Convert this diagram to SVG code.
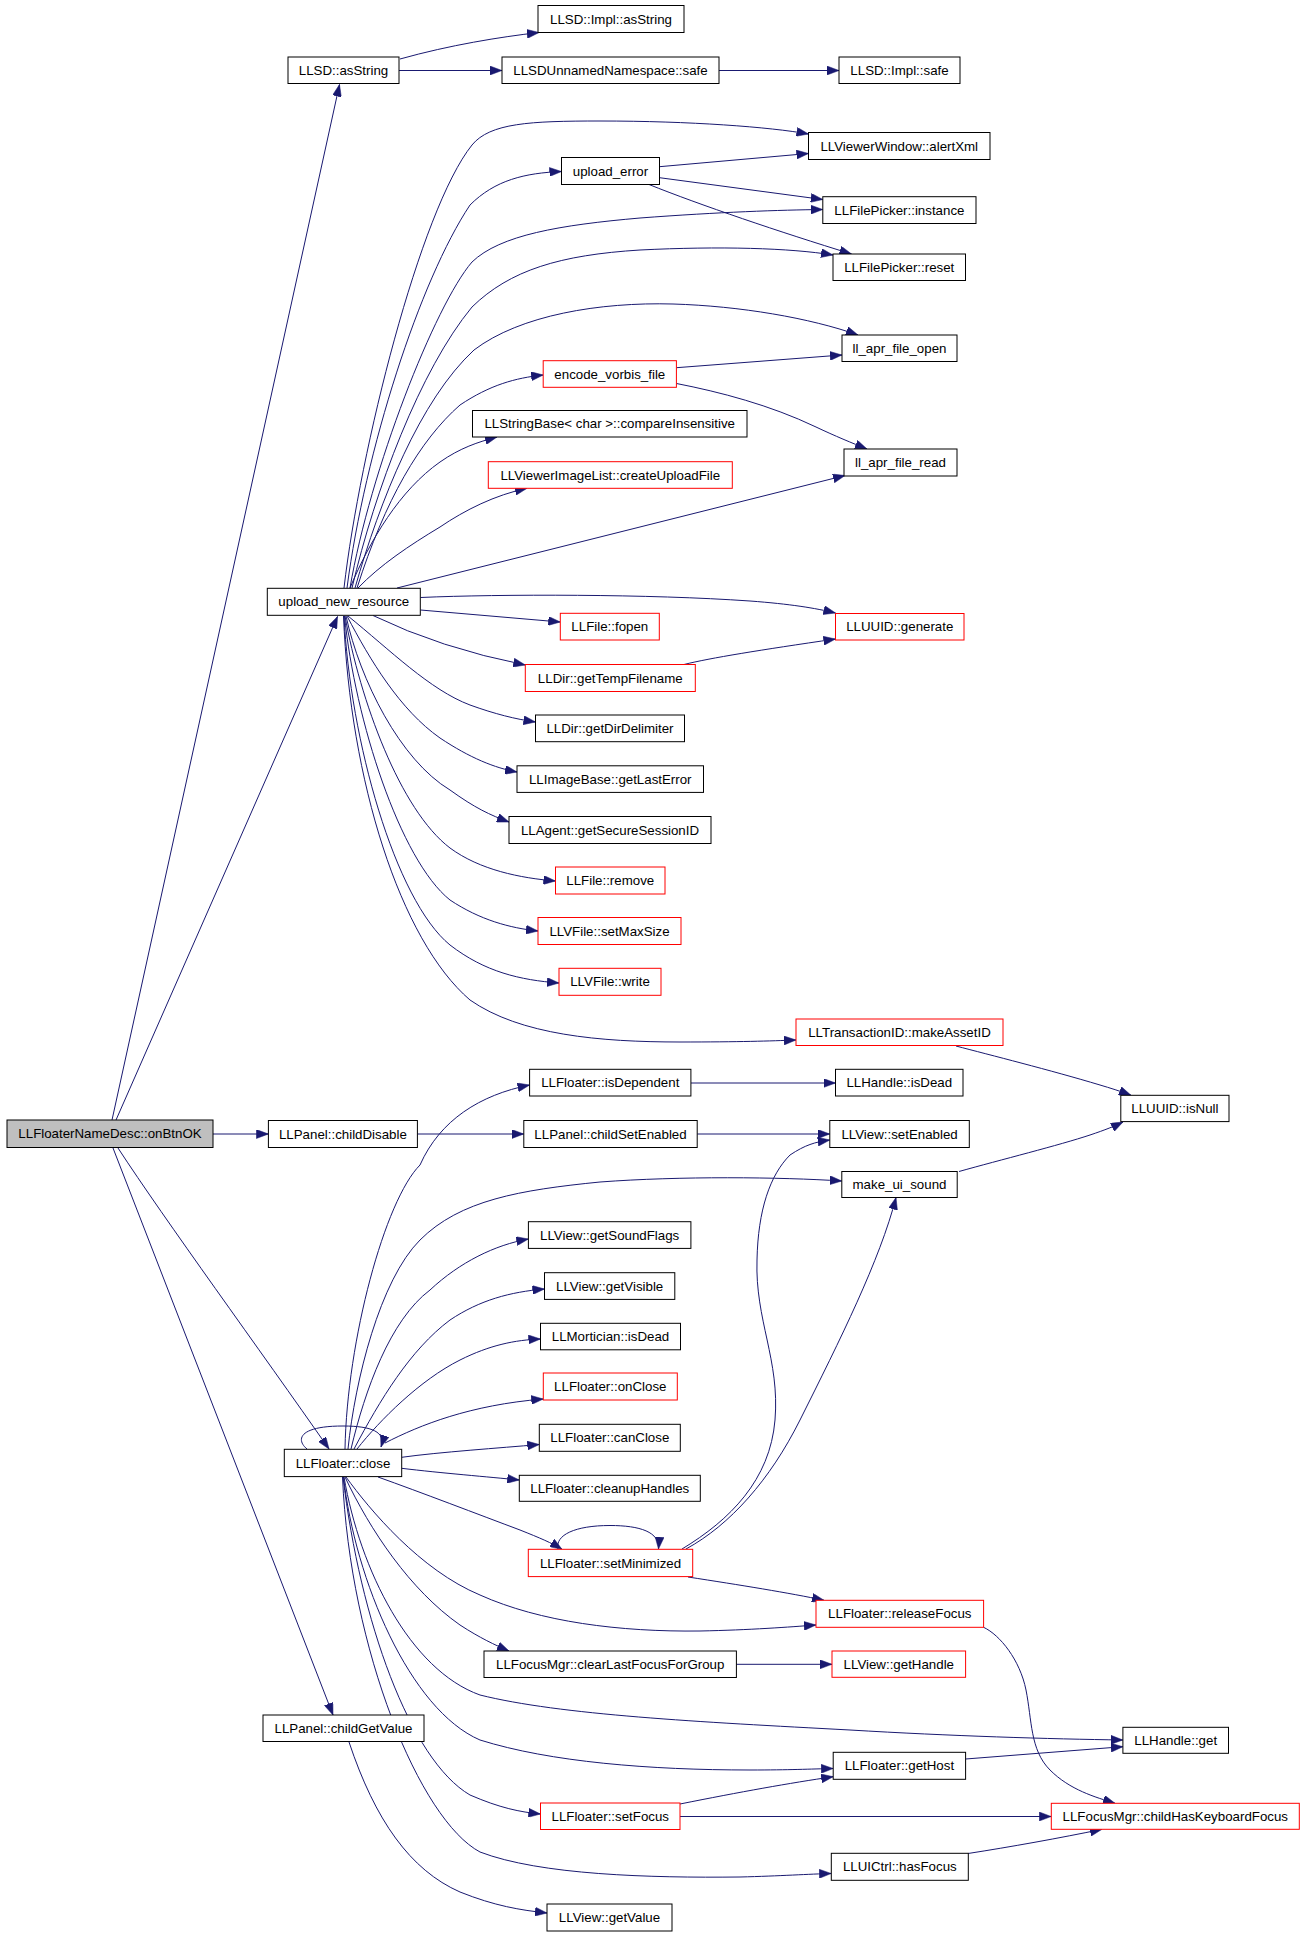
<svg xmlns="http://www.w3.org/2000/svg" width="1304" height="1936" viewBox="0 0 1304 1936">
<style>
.node rect{fill:#fff;stroke:#000;stroke-width:1}
.node.red rect{stroke:#f00}
.node.root rect{fill:#bfbfbf}
.node text{font-family:"Liberation Sans",Arial,sans-serif;font-size:13.3px;text-anchor:middle;fill:#000}
#edges path{fill:none;stroke:#191970;stroke-width:1;marker-end:url(#arr)}
</style>
<defs>
<marker id="arr" markerUnits="userSpaceOnUse" markerWidth="12" markerHeight="9" refX="12" refY="4.5" orient="auto" viewBox="0 0 12 9">
<path d="M0,0 L12,4.5 L0,9 z" fill="#191970" stroke="#191970" stroke-width="0.5"/>
</marker>
</defs>
<rect width="1304" height="1936" fill="#fff"/>
<g id="edges">
<path d="M112,1120 L339.5,84.5"/>
<path d="M116,1120 L337.5,616.5"/>
<path d="M213,1134 L268.4,1134"/>
<path d="M118,1148 C165,1220 260,1350 329,1449"/>
<path d="M113,1148 L333,1715"/>
<path d="M400,59 C450,45 500,37 539,32.5"/>
<path d="M399,70.5 L502,70.5"/>
<path d="M719,70.5 L839,70.5"/>
<path d="M344,588 C360,450 420,210 472,145 C490,123 530,121 600,121 C690,121 770,127 808.5,134"/>
<path d="M347,588 C365,450 420,280 470,205 C495,180 525,173 561.5,171.5"/>
<path d="M659.5,166.7 L808.5,153.5"/>
<path d="M659.5,177.7 L822.8,199.5"/>
<path d="M648.5,184.3 C700,205 780,232 851.5,254"/>
<path d="M350,588 C370,470 435,305 472,262 C500,235 560,225 640,218 C720,212 780,210 822.8,209.5"/>
<path d="M352,588 C375,490 420,370 472,307 C510,270 560,255 640,250 C720,246 790,248 833,255"/>
<path d="M355,588 C380,500 420,400 474,350 C520,315 600,302 673,304 C740,306 810,318 858,335"/>
<path d="M357,588 C385,500 420,440 460,405 C490,385 515,378 543.2,375"/>
<path d="M676.5,367.7 L842,355"/>
<path d="M676.5,383.5 C720,392 770,405 816,427 C835,436 852,443 867,449"/>
<path d="M350,588 C370,540 400,490 440,462 C460,448 478,442 497,437"/>
<path d="M358,588 C380,565 410,545 440,527 C465,510 495,495 527,488.3"/>
<path d="M397,588 L845,475.5"/>
<path d="M420.5,597.5 C500,594 650,594 750,601 C790,604 815,608 835.5,613"/>
<path d="M420.5,610 L560.3,622"/>
<path d="M373,615.5 Q440,648 525.3,665"/>
<path d="M684,664.5 C710,658 760,650 835.5,639"/>
<path d="M348,616 C390,650 430,690 470,705 C495,714 515,719 535.5,722"/>
<path d="M347,616 C370,660 400,710 440,738 C470,758 495,768 517,772"/>
<path d="M346,616 C360,680 400,760 450,790 C475,808 490,815 509,822"/>
<path d="M345,616 C360,700 400,810 450,848 C480,870 520,878 555.5,881"/>
<path d="M344.5,616 C355,720 400,860 450,900 C480,920 510,928 538,931"/>
<path d="M344,616 C350,740 395,900 450,945 C485,972 520,980 559,983"/>
<path d="M343.5,616 C350,780 400,940 470,1000 C520,1035 600,1042 680,1042 C740,1042 770,1041 796,1040"/>
<path d="M956,1046 C990,1055 1050,1070 1100,1085 C1110,1088 1120,1091 1131,1095.3"/>
<path d="M691,1083 L835.5,1083"/>
<path d="M417.4,1134 L523.8,1134"/>
<path d="M697.2,1134 L829.8,1134"/>
<path d="M959,1171.5 C1000,1160 1060,1145 1090,1135 C1105,1130 1115,1126 1123,1122"/>
<path d="M345,1449 C347,1340 385,1200 420,1165 C440,1120 480,1095 529.6,1085"/>
<path d="M348,1449 C355,1380 380,1280 420,1240 C460,1200 520,1190 600,1182 C680,1176 780,1177 841.8,1181"/>
<path d="M351,1449 C365,1390 390,1320 430,1290 C460,1262 495,1245 528.4,1239"/>
<path d="M354,1449 C380,1400 410,1350 450,1320 C480,1300 510,1292 544.5,1289"/>
<path d="M357,1449 C380,1420 420,1380 460,1360 C490,1345 515,1340 540.5,1339"/>
<path d="M385,1443 C420,1425 470,1405 543.3,1399"/>
<path d="M307,1449 C296,1440 298,1426 343,1426 C372,1426 386,1432 381,1447"/>
<path d="M401.7,1457.3 C440,1452 500,1448 539.3,1444.5"/>
<path d="M401.7,1468.3 C440,1473 490,1477 519.3,1480"/>
<path d="M378,1477 C420,1492 480,1515 520,1530 C540,1538 552,1543 562,1549.3"/>
<path d="M558,1549 C555,1535 575,1525.5 610,1525.5 C640,1525.5 660,1532 658.5,1549"/>
<path d="M682,1549 C730,1520 770,1480 775,1420 C780,1360 755,1320 757,1260 C758,1210 770,1175 790,1155 C805,1145 815,1142 829.8,1140"/>
<path d="M686,1549 C730,1525 770,1480 800,1420 C840,1340 880,1260 896,1197.5"/>
<path d="M688,1577 C740,1585 790,1593 824,1600.3"/>
<path d="M346,1477 C370,1510 420,1570 480,1595 C540,1622 620,1632 700,1631 C750,1630 790,1627 816,1625"/>
<path d="M345,1477 C370,1530 410,1590 460,1625 C480,1638 495,1645 509,1651"/>
<path d="M736.4,1664.3 L832,1664.3"/>
<path d="M344,1477 C360,1570 410,1670 480,1695 C560,1715 700,1722 850,1730 C950,1736 1050,1739 1122.9,1740"/>
<path d="M965.6,1759 L1122.9,1746.7"/>
<path d="M343.5,1477 C355,1580 410,1710 480,1740 C550,1762 650,1770 750,1770 C790,1770 810,1769 833.2,1768.5"/>
<path d="M343,1477 C360,1620 410,1760 470,1795 C500,1808 520,1812 540.5,1814"/>
<path d="M680,1804 C740,1792 790,1783 833.2,1776.7"/>
<path d="M680,1816.5 L1051.3,1816.5"/>
<path d="M983.6,1627.3 C1000,1635 1020,1660 1026,1690 C1032,1720 1030,1750 1050,1770 C1070,1790 1095,1797 1115,1803.3"/>
<path d="M342.5,1477 C350,1650 420,1820 480,1852 C540,1875 650,1878 740,1877 C780,1876 810,1874 831.3,1873.5"/>
<path d="M968,1853.5 C1010,1847 1060,1838 1102,1829.3"/>
<path d="M349,1742 C375,1820 410,1870 460,1892 C495,1906 520,1910 547,1913"/>
</g>
<g id="n_onBtnOK" class="node root"><rect x="7" y="1120" width="206" height="27.5"/><text x="110" y="1138.4">LLFloaterNameDesc::onBtnOK</text></g>
<g id="n_asString" class="node"><rect x="288" y="57" width="111" height="26.5"/><text x="343.5" y="74.9">LLSD::asString</text></g>
<g id="n_implAsString" class="node"><rect x="538" y="5.5" width="146" height="27"/><text x="611" y="23.6">LLSD::Impl::asString</text></g>
<g id="n_unnamedSafe" class="node"><rect x="502" y="57" width="217" height="26.5"/><text x="610.5" y="74.9">LLSDUnnamedNamespace::safe</text></g>
<g id="n_implSafe" class="node"><rect x="839" y="57" width="121" height="26.5"/><text x="899.5" y="74.9">LLSD::Impl::safe</text></g>
<g id="n_uploadNewResource" class="node"><rect x="267.3" y="588.3" width="153" height="27"/><text x="343.8" y="606.4">upload_new_resource</text></g>
<g id="n_alertXml" class="node"><rect x="808.5" y="132.5" width="181.5" height="27"/><text x="899.25" y="150.6">LLViewerWindow::alertXml</text></g>
<g id="n_uploadError" class="node"><rect x="561.5" y="157.5" width="98" height="27"/><text x="610.5" y="175.6">upload_error</text></g>
<g id="n_fpInstance" class="node"><rect x="822.8" y="196.7" width="153.2" height="26.8"/><text x="899.4" y="214.7">LLFilePicker::instance</text></g>
<g id="n_fpReset" class="node"><rect x="833" y="254" width="132.5" height="26.5"/><text x="899.25" y="271.85">LLFilePicker::reset</text></g>
<g id="n_aprOpen" class="node"><rect x="842" y="335" width="115" height="26.5"/><text x="899.5" y="352.85">ll_apr_file_open</text></g>
<g id="n_encodeVorbis" class="node red"><rect x="543.2" y="360.7" width="133.2" height="26.6"/><text x="609.8" y="378.6">encode_vorbis_file</text></g>
<g id="n_compareInsensitive" class="node"><rect x="472.5" y="410.5" width="274.5" height="26.5"/><text x="609.75" y="428.35">LLStringBase&lt; char &gt;::compareInsensitive</text></g>
<g id="n_createUploadFile" class="node red"><rect x="488.3" y="461.7" width="244" height="26.6"/><text x="610.3" y="479.6">LLViewerImageList::createUploadFile</text></g>
<g id="n_aprRead" class="node"><rect x="844" y="449" width="113" height="27"/><text x="900.5" y="467.1">ll_apr_file_read</text></g>
<g id="n_fopen" class="node red"><rect x="560.3" y="613.3" width="99" height="26.7"/><text x="609.8" y="631.25">LLFile::fopen</text></g>
<g id="n_generate" class="node red"><rect x="835.5" y="613.5" width="128.5" height="26.5"/><text x="899.75" y="631.35">LLUUID::generate</text></g>
<g id="n_getTempFilename" class="node red"><rect x="525.3" y="664.5" width="170" height="27"/><text x="610.3" y="682.6">LLDir::getTempFilename</text></g>
<g id="n_getDirDelimiter" class="node"><rect x="535.5" y="715" width="149" height="26.7"/><text x="610" y="733">LLDir::getDirDelimiter</text></g>
<g id="n_getLastError" class="node"><rect x="517" y="765.8" width="186.5" height="26.6"/><text x="610.25" y="783.7">LLImageBase::getLastError</text></g>
<g id="n_secureSession" class="node"><rect x="509" y="816.5" width="202" height="27"/><text x="610" y="834.6">LLAgent::getSecureSessionID</text></g>
<g id="n_fileRemove" class="node red"><rect x="555.5" y="867" width="109.5" height="27"/><text x="610.25" y="885.1">LLFile::remove</text></g>
<g id="n_setMaxSize" class="node red"><rect x="538" y="917.5" width="143" height="27"/><text x="609.5" y="935.6">LLVFile::setMaxSize</text></g>
<g id="n_vfileWrite" class="node red"><rect x="559" y="968.3" width="102" height="27"/><text x="610" y="986.4">LLVFile::write</text></g>
<g id="n_makeAssetID" class="node red"><rect x="796" y="1019" width="207" height="26.5"/><text x="899.5" y="1036.85">LLTransactionID::makeAssetID</text></g>
<g id="n_isDependent" class="node"><rect x="529.6" y="1069.3" width="161.3" height="26.7"/><text x="610.25" y="1087.25">LLFloater::isDependent</text></g>
<g id="n_handleIsDead" class="node"><rect x="835.5" y="1069.3" width="127.5" height="26.7"/><text x="899.25" y="1087.25">LLHandle::isDead</text></g>
<g id="n_isNull" class="node"><rect x="1120.8" y="1095.3" width="108.2" height="26.3"/><text x="1174.9" y="1113.05">LLUUID::isNull</text></g>
<g id="n_childDisable" class="node"><rect x="268.4" y="1120.5" width="149" height="27"/><text x="342.9" y="1138.6">LLPanel::childDisable</text></g>
<g id="n_childSetEnabled" class="node"><rect x="523.8" y="1120.5" width="173.4" height="27"/><text x="610.5" y="1138.6">LLPanel::childSetEnabled</text></g>
<g id="n_setEnabled" class="node"><rect x="829.8" y="1120.5" width="139.5" height="27"/><text x="899.55" y="1138.6">LLView::setEnabled</text></g>
<g id="n_makeUiSound" class="node"><rect x="841.8" y="1171.5" width="115.4" height="26"/><text x="899.5" y="1189.1">make_ui_sound</text></g>
<g id="n_getSoundFlags" class="node"><rect x="528.4" y="1221.7" width="162.5" height="26.7"/><text x="609.65" y="1239.65">LLView::getSoundFlags</text></g>
<g id="n_getVisible" class="node"><rect x="544.5" y="1272.7" width="130.3" height="26.7"/><text x="609.65" y="1290.65">LLView::getVisible</text></g>
<g id="n_morticianIsDead" class="node"><rect x="540.5" y="1323.3" width="140" height="26.5"/><text x="610.5" y="1341.15">LLMortician::isDead</text></g>
<g id="n_onClose" class="node red"><rect x="543.3" y="1373" width="134" height="27"/><text x="610.3" y="1391.1">LLFloater::onClose</text></g>
<g id="n_canClose" class="node"><rect x="539.3" y="1424.3" width="141" height="27"/><text x="609.8" y="1442.4">LLFloater::canClose</text></g>
<g id="n_close" class="node"><rect x="284.3" y="1449.3" width="117.4" height="27.3"/><text x="343" y="1467.55">LLFloater::close</text></g>
<g id="n_cleanupHandles" class="node"><rect x="519.3" y="1475.3" width="181" height="26"/><text x="609.8" y="1492.9">LLFloater::cleanupHandles</text></g>
<g id="n_setMinimized" class="node red"><rect x="528.3" y="1549.3" width="164.4" height="27.3"/><text x="610.5" y="1567.55">LLFloater::setMinimized</text></g>
<g id="n_releaseFocus" class="node red"><rect x="816" y="1600.3" width="167.6" height="27"/><text x="899.8" y="1618.4">LLFloater::releaseFocus</text></g>
<g id="n_clearLastFocus" class="node"><rect x="484" y="1651" width="252.4" height="26.5"/><text x="610.2" y="1668.85">LLFocusMgr::clearLastFocusForGroup</text></g>
<g id="n_getHandle" class="node red"><rect x="832" y="1651" width="133.6" height="26.3"/><text x="898.8" y="1668.75">LLView::getHandle</text></g>
<g id="n_childGetValue" class="node"><rect x="263" y="1715" width="161" height="26.5"/><text x="343.5" y="1732.85">LLPanel::childGetValue</text></g>
<g id="n_handleGet" class="node"><rect x="1122.9" y="1727.3" width="105.6" height="26"/><text x="1175.7" y="1744.9">LLHandle::get</text></g>
<g id="n_getHost" class="node"><rect x="833.2" y="1752.3" width="132.4" height="27"/><text x="899.4" y="1770.4">LLFloater::getHost</text></g>
<g id="n_setFocus" class="node red"><rect x="540.5" y="1803" width="139.5" height="26.5"/><text x="610.25" y="1820.85">LLFloater::setFocus</text></g>
<g id="n_childHasKeyboardFocus" class="node red"><rect x="1051.3" y="1803.3" width="248" height="26"/><text x="1175.3" y="1820.9">LLFocusMgr::childHasKeyboardFocus</text></g>
<g id="n_hasFocus" class="node"><rect x="831.3" y="1853.3" width="137" height="27"/><text x="899.8" y="1871.4">LLUICtrl::hasFocus</text></g>
<g id="n_getValue" class="node"><rect x="547" y="1904" width="125" height="27"/><text x="609.5" y="1922.1">LLView::getValue</text></g>
</svg>
